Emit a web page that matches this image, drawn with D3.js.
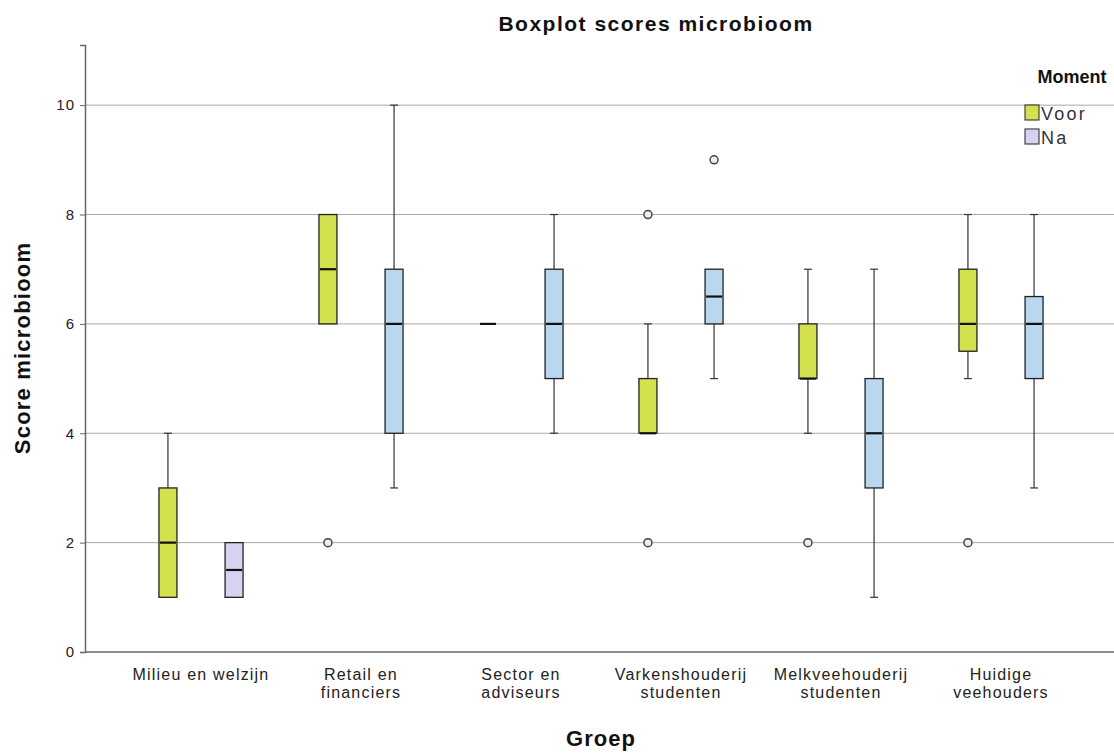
<!DOCTYPE html>
<html lang="nl">
<head>
<meta charset="UTF-8">
<title>Boxplot scores microbioom</title>
<style>
  body { margin: 0; background: #fff; }
  text { font-family: "Liberation Sans", Arial, sans-serif; }
  .bold { font-weight: bold; }
</style>
</head>
<body>
<svg width="1114" height="753"></svg>
<script src="https://d3js.org/d3.v7.min.js"></script>
<script>

let groups = ["Milieu en welzijn", "Retail en financiers", "Sector en adviseurs",
              "Varkenshouderij studenten", "Melkveehouderij studenten", "Huidige veehouders"];
let groupLabels = [["Milieu en welzijn"], ["Retail en", "financiers"], ["Sector en", "adviseurs"],
                   ["Varkenshouderij", "studenten"], ["Melkveehouderij", "studenten"], ["Huidige", "veehouders"]];
let moments = ["Voor", "Na"];
let yTicks = [0, 2, 4, 6, 8, 10];

// [min, q1, median, q3, max] per group
let voorStats = [
    [1, 1, 2, 3, 4],
    [6, 6, 7, 8, 8],
    [6, 6, 6, 6, 6],
    [4, 4, 4, 5, 6],
    [4, 5, 5, 6, 7],
    [5, 5.5, 6, 7, 8]
];
let naStats = [
    [1, 1, 1.5, 2, 2],
    [3, 4, 6, 7, 10],
    [4, 5, 6, 7, 8],
    [5, 6, 6.5, 7, 7],
    [1, 3, 4, 5, 7],
    [3, 5, 6, 6.5, 8]
];
let voorOutliers = [[], [2], [], [8, 2], [2], [2]];
let naOutliers = [[], [], [], [9], [], []];

let colors = { Voor: "#d3e14f", Na: "#b9d7f0" };
let legendColors = { Voor: "#d3e14f", Na: "#d6d3f2" };

let svg = d3.select("svg");
let margin = { left: 85, right: 0, top: 45, bottom: 101 };
let W = 1114, H = 753;

let x = d3.scaleBand().domain(groups).range([121, 1081]);
let xm = d3.scalePoint().domain(moments).range([0, x.bandwidth()]).padding(0.71);
let y = d3.scaleLinear().domain([0, 11.1]).range([H - margin.bottom, margin.top]);
let boxW = 18;

// gridlines
svg.append("g").selectAll("line").data(yTicks.filter(d => d > 0)).join("line")
    .attr("x1", margin.left).attr("x2", W)
    .attr("y1", d => y(d)).attr("y2", d => y(d))
    .attr("stroke", "#a8a8a8").attr("stroke-width", 1);

// y axis
let yAxis = svg.append("g").attr("transform", `translate(${margin.left},0)`)
    .call(d3.axisLeft(y).tickValues(yTicks).tickSize(5).tickPadding(5));
yAxis.select(".domain").attr("stroke", "#666").attr("stroke-width", 1.5);
yAxis.selectAll(".tick line").attr("stroke", "#666");
yAxis.selectAll(".tick text").attr("font-size", 15).attr("fill", "#222")
    .attr("letter-spacing", 1)
    .style("font-family", "'Liberation Sans', Arial, sans-serif");

// x axis line
svg.append("line").attr("x1", margin.left).attr("x2", W)
    .attr("y1", y(0)).attr("y2", y(0)).attr("stroke", "#666").attr("stroke-width", 1.5);

// x labels
let xl = svg.append("g").selectAll("text").data(groups).join("text")
    .attr("x", d => x(d) + x.bandwidth() / 2)
    .attr("y", 680)
    .attr("text-anchor", "middle")
    .attr("font-size", 16).attr("letter-spacing", 1.2).attr("fill", "#222");
xl.each(function (d, i) {
    d3.select(this).selectAll("tspan").data(groupLabels[i]).join("tspan")
        .attr("x", x(d) + x.bandwidth() / 2)
        .attr("dy", (t, j) => j === 0 ? 0 : 18)
        .text(t => t);
});

// boxes
let rows = [];
groups.forEach((g, i) => {
    rows.push({ g: g, m: "Voor", s: voorStats[i], out: voorOutliers[i] });
    rows.push({ g: g, m: "Na", s: naStats[i], out: naOutliers[i] });
});

let bx = svg.append("g").selectAll("g").data(rows).join("g")
    .attr("transform", d => `translate(${x(d.g) + xm(d.m)},0)`);

// whiskers
bx.append("line").attr("y1", d => y(d.s[0])).attr("y2", d => y(d.s[1]))
    .attr("stroke", "#333").attr("stroke-width", 1.2);
bx.append("line").attr("y1", d => y(d.s[3])).attr("y2", d => y(d.s[4]))
    .attr("stroke", "#333").attr("stroke-width", 1.2);
bx.filter(d => d.s[0] < d.s[1]).append("line")
    .attr("x1", -4).attr("x2", 4).attr("y1", d => y(d.s[0])).attr("y2", d => y(d.s[0]))
    .attr("stroke", "#333").attr("stroke-width", 1.2);
bx.filter(d => d.s[4] > d.s[3]).append("line")
    .attr("x1", -4).attr("x2", 4).attr("y1", d => y(d.s[4])).attr("y2", d => y(d.s[4]))
    .attr("stroke", "#333").attr("stroke-width", 1.2);

// box
bx.filter(d => d.s[3] > d.s[1]).append("rect")
    .attr("x", -boxW / 2).attr("width", boxW)
    .attr("y", d => y(d.s[3])).attr("height", d => y(d.s[1]) - y(d.s[3]))
    .attr("fill", d => d.g === groups[0] && d.m === "Na" ? legendColors.Na : colors[d.m])
    .attr("stroke", "#222").attr("stroke-width", 1.3);

// median
bx.append("line").attr("x1", -boxW / 2 + 1).attr("x2", boxW / 2 - 1)
    .attr("y1", d => y(d.s[2])).attr("y2", d => y(d.s[2]))
    .attr("stroke", "#111").attr("stroke-width", 2.2);

// outliers
bx.selectAll("circle").data(d => d.out).join("circle")
    .attr("cx", 0).attr("cy", d => y(d)).attr("r", 4)
    .attr("fill", "#eee").attr("stroke", "#444").attr("stroke-width", 1.5);

// title
svg.append("text").attr("class", "bold").attr("x", 656).attr("y", 31)
    .attr("text-anchor", "middle").attr("font-size", 21).attr("letter-spacing", 1.5)
    .attr("fill", "#111")
    .text("Boxplot scores microbioom");

// axis titles
svg.append("text").attr("class", "bold")
    .attr("transform", "translate(30,348) rotate(-90)")
    .attr("text-anchor", "middle").attr("font-size", 22).attr("letter-spacing", 1.2)
    .attr("fill", "#111")
    .text("Score microbioom");
svg.append("text").attr("class", "bold").attr("x", 601).attr("y", 746)
    .attr("text-anchor", "middle").attr("font-size", 22).attr("letter-spacing", 1)
    .attr("fill", "#111")
    .text("Groep");

// legend
let lg = svg.append("g");
lg.append("text").attr("class", "bold").attr("x", 1072).attr("y", 83)
    .attr("text-anchor", "middle").attr("font-size", 18).attr("fill", "#111")
    .text("Moment");
let li = lg.selectAll("g").data(moments).join("g")
    .attr("transform", (d, i) => `translate(1025,${105 + i * 24})`);
li.append("rect").attr("width", 14).attr("height", 15)
    .attr("fill", d => legendColors[d]).attr("stroke", "#444").attr("stroke-width", 1.2);
li.append("text").attr("x", 16).attr("y", 15).attr("font-size", 18).attr("letter-spacing", 2.2)
    .attr("fill", "#333")
    .text(d => d);

</script>
</body>
</html>
